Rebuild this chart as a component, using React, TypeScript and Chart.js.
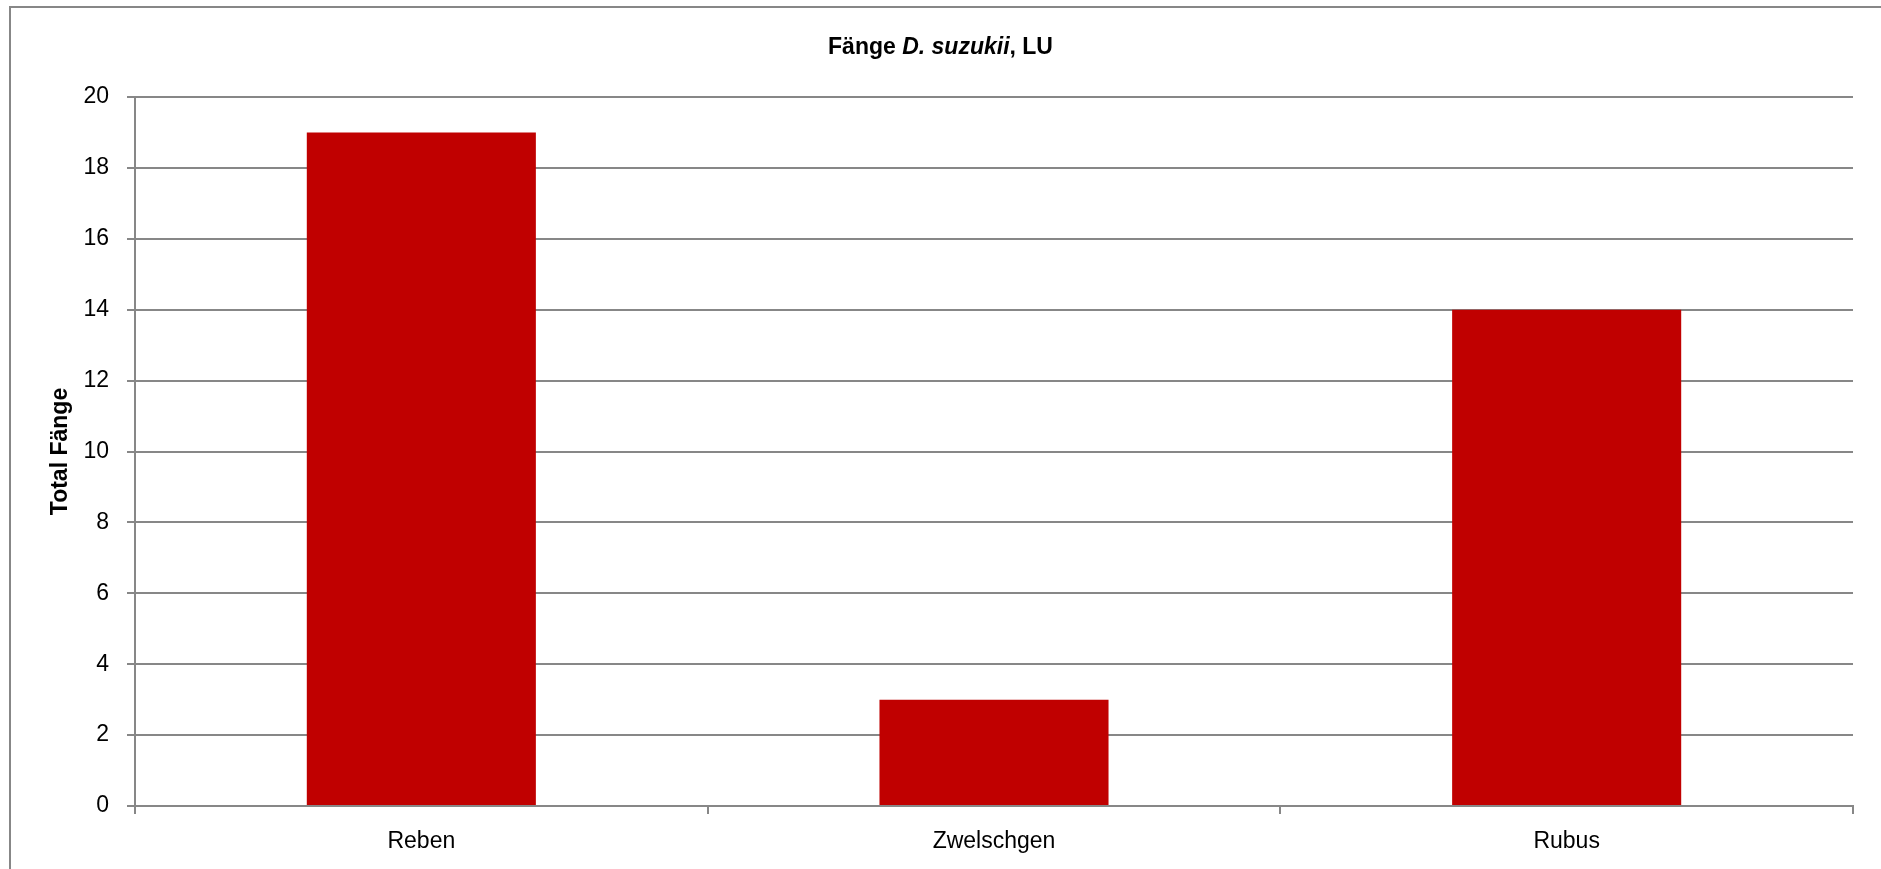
import React, { useEffect, useRef } from "react";
import { Chart, registerables } from "chart.js";

Chart.register(...registerables);

const categories = ["Reben", "Zwelschgen", "Rubus"];
const catches = [19, 3, 14];
const yTicks = [0, 2, 4, 6, 8, 10, 12, 14, 16, 18, 20];
const titleParts = [
  { text: "Fänge ", italic: false },
  { text: "D. suzukii", italic: true },
  { text: ", LU", italic: false },
];
const yTitle = "Total Fänge";

const FONT = "'Liberation Sans', Arial, sans-serif";
const GRID = "#878787";
const BAR = "#C00000";

const W = 1881;
const H = 869;

const framePlugin = {
  id: "frame",
  beforeDraw(chart: any) {
    const ctx = chart.ctx;
    ctx.save();
    ctx.fillStyle = "#ffffff";
    ctx.fillRect(0, 0, chart.width, chart.height);
    ctx.strokeStyle = GRID;
    ctx.lineWidth = 2;
    ctx.beginPath();
    ctx.moveTo(10, chart.height + 2);
    ctx.lineTo(10, 7);
    ctx.lineTo(chart.width + 2, 7);
    ctx.stroke();
    ctx.restore();
  },
  afterDraw(chart: any) {
    const ctx = chart.ctx;
    ctx.save();
    ctx.fillStyle = "#000";
    ctx.textBaseline = "alphabetic";
    const size = 23;
    const fonts = titleParts.map(
      (p) => `${p.italic ? "italic " : ""}bold ${size}px ${FONT}`
    );
    let total = 0;
    const widths = titleParts.map((p, i) => {
      ctx.font = fonts[i];
      const w = ctx.measureText(p.text).width;
      total += w;
      return w;
    });
    let x = chart.width / 2 - total / 2;
    titleParts.forEach((p, i) => {
      ctx.font = fonts[i];
      ctx.textAlign = "left";
      ctx.fillText(p.text, x, 54);
      x += widths[i];
    });
    ctx.restore();
  },
};

export default function App() {
  const ref = useRef<HTMLCanvasElement | null>(null);

  useEffect(() => {
    if (!ref.current) return;
    const chart = new Chart(ref.current, {
      type: "bar",
      data: {
        labels: categories,
        datasets: [
          {
            label: yTitle,
            data: catches,
            backgroundColor: BAR,
            borderWidth: 0,
            categoryPercentage: 1,
            barPercentage: 0.4,
          },
        ],
      },
      options: {
        responsive: false,
        animation: false,
        devicePixelRatio: 1,
        layout: { padding: { top: 97, right: 28, left: 0, bottom: 0 } },
        plugins: {
          legend: { display: false },
          tooltip: { enabled: false },
          title: { display: false },
        },
        scales: {
          x: {
            type: "category",
            offset: true,
            grid: {
              offset: true,
              drawOnChartArea: false,
              drawTicks: true,
              tickLength: 8,
              color: GRID,
              lineWidth: 2,
            },
            border: { display: true, color: GRID, width: 2 },
            ticks: {
              color: "#000",
              font: { family: FONT, size: 23 },
              padding: 14,
              maxRotation: 0,
            },
            afterFit: (s: any) => {
              s.height = 63;
            },
          },
          y: {
            min: 0,
            max: 20,
            afterBuildTicks: (s: any) => {
              s.ticks = yTicks.map((v) => ({ value: v }));
            },
            grid: {
              color: GRID,
              lineWidth: 2,
              drawTicks: true,
              tickLength: 8,
            },
            border: { display: true, color: GRID, width: 2 },
            ticks: {
              color: "#000",
              font: { family: FONT, size: 23 },
              padding: 18,
            },
            title: {
              display: true,
              text: yTitle,
              color: "#000",
              font: { family: FONT, size: 23, weight: "bold" },
              padding: { top: 47, bottom: 0 },
            },
            afterFit: (s: any) => {
              s.width = 135;
            },
          },
        },
      },
      plugins: [framePlugin],
    });
    return () => chart.destroy();
  }, []);

  return (
    <div
      style={{
        position: "fixed",
        left: 0,
        top: 0,
        width: W,
        height: H,
        background: "#fff",
      }}
    >
      <canvas ref={ref} width={W} height={H} style={{ width: W, height: H }} />
    </div>
  );
}
